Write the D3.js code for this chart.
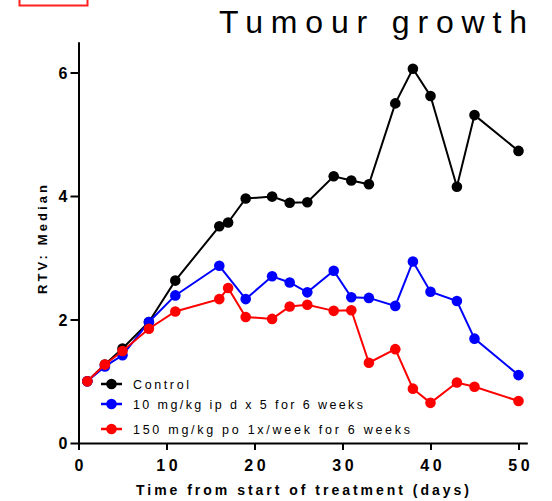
<!DOCTYPE html>
<html>
<head>
<meta charset="utf-8">
<script src="https://cdn.jsdelivr.net/npm/d3@7"></script>
<style>
  html, body { margin: 0; padding: 0; background: #fff; }
  svg { display: block; }
</style>
</head>
<body>
<svg id="chart" width="552" height="501"></svg>
<script>
// Relative tumour volume (median) by day from start of treatment
const controlDays = [1, 3, 5, 8, 11, 16, 17, 19, 22, 24, 26, 29, 31, 33, 36, 38, 40, 43, 45, 50];
const controlRTV  = [1.00, 1.27, 1.53, 1.96, 2.63, 3.51, 3.57, 3.96, 3.99, 3.89, 3.90, 4.32, 4.25, 4.19, 5.50, 6.06, 5.62, 4.15, 5.31, 4.73];

const lowDoseDays = [1, 3, 5, 8, 11, 16, 19, 22, 24, 26, 29, 31, 33, 36, 38, 40, 43, 45, 50];
const lowDoseRTV  = [1.00, 1.24, 1.42, 1.96, 2.39, 2.87, 2.33, 2.70, 2.60, 2.44, 2.79, 2.36, 2.35, 2.22, 2.94, 2.45, 2.30, 1.69, 1.10];

const highDoseDays = [1, 3, 5, 8, 11, 16, 17, 19, 22, 24, 26, 29, 31, 33, 36, 38, 40, 43, 45, 50];
const highDoseRTV  = [1.00, 1.27, 1.49, 1.85, 2.13, 2.33, 2.51, 2.04, 2.01, 2.21, 2.24, 2.14, 2.15, 1.30, 1.52, 0.88, 0.65, 0.98, 0.91, 0.68];

const seriesNames  = ["Control", "10 mg/kg ip d x 5 for 6 weeks", "150 mg/kg po 1x/week for 6 weeks"];
const seriesColors = ["#000000", "#0000ff", "#ff0000"];

const xTicks = [0, 10, 20, 30, 40, 50];
const yTicks = [0, 2, 4, 6];

const titleText = "Tumour growth";
const xTitle = "Time from start of treatment (days)";
const yTitle = "RTV: Median";

const series = [
  { name: seriesNames[0], color: seriesColors[0], pts: controlDays.map((d, i) => [d, controlRTV[i]]) },
  { name: seriesNames[1], color: seriesColors[1], pts: lowDoseDays.map((d, i) => [d, lowDoseRTV[i]]) },
  { name: seriesNames[2], color: seriesColors[2], pts: highDoseDays.map((d, i) => [d, highDoseRTV[i]]) }
];

const svg = d3.select("#chart");
const FONT = "'Liberation Sans', Arial, Helvetica, sans-serif";

const x = d3.scaleLinear().domain([0, 51]).range([78.5, 78.5 + 51 * 8.8]);
const y = d3.scaleLinear().domain([0, 6.5]).range([443, 443 - 6.5 * 61.75]);

// small red frame at the top-left edge
svg.append("rect")
  .attr("x", 19.5).attr("y", -4).attr("width", 68).attr("height", 9.5)
  .attr("fill", "none").attr("stroke", "#ff2020").attr("stroke-width", 2);

// title
svg.append("text")
  .attr("x", 219).attr("y", 33)
  .attr("font-family", FONT).attr("font-size", 32)
  .attr("textLength", 308).attr("lengthAdjust", "spacing")
  .attr("fill", "#000")
  .text(titleText);

// axes
const xAxis = d3.axisBottom(x).tickValues(xTicks).tickSize(7).tickSizeOuter(0).tickFormat(d3.format("d"));
const yAxis = d3.axisLeft(y).tickValues(yTicks).tickSize(8).tickSizeOuter(0).tickFormat(d3.format("d"));

const gx = svg.append("g").attr("transform", `translate(0,${y(0)})`).call(xAxis);
const gy = svg.append("g").attr("transform", `translate(${x(0)},0)`).call(yAxis);

[gx, gy].forEach(g => {
  g.select(".domain").attr("stroke", "#000").attr("stroke-width", 2);
  g.selectAll(".tick line").attr("stroke", "#000").attr("stroke-width", 2);
  g.selectAll(".tick text")
    .attr("font-family", FONT).attr("font-size", 16).attr("font-weight", "bold")
    .attr("fill", "#000");
});
gx.selectAll(".tick text").attr("y", 28).attr("dy", 0)
  .attr("letter-spacing", 3.5).attr("dx", 1.75);
gy.selectAll(".tick text").attr("x", -11).attr("dy", "0.36em");

// axis titles
svg.append("text")
  .attr("x", 136).attr("y", 495)
  .attr("font-family", FONT).attr("font-size", 14).attr("font-weight", "bold")
  .attr("textLength", 333).attr("lengthAdjust", "spacing")
  .text(xTitle);

svg.append("text")
  .attr("transform", "translate(47,294) rotate(-90)")
  .attr("font-family", FONT).attr("font-size", 13).attr("font-weight", "bold")
  .attr("textLength", 109).attr("lengthAdjust", "spacing")
  .text(yTitle);

// series lines and markers
const line = d3.line().x(d => x(d[0])).y(d => y(d[1]));
series.forEach(s => {
  const g = svg.append("g");
  g.append("path").datum(s.pts)
    .attr("d", line).attr("fill", "none")
    .attr("stroke", s.color).attr("stroke-width", 2);
  g.selectAll("circle").data(s.pts).join("circle")
    .attr("cx", d => x(d[0])).attr("cy", d => y(d[1])).attr("r", 5.3)
    .attr("fill", s.color);
});

// legend
const legendRows = [384, 404, 429];
const legendWidths = [56, 230, 277];
series.forEach((s, i) => {
  const g = svg.append("g").attr("transform", `translate(0,${legendRows[i]})`);
  g.append("line").attr("x1", 101).attr("x2", 122).attr("y1", 0).attr("y2", 0)
    .attr("stroke", s.color).attr("stroke-width", 2.5);
  g.append("circle").attr("cx", 111.5).attr("cy", 0).attr("r", 5.3).attr("fill", s.color);
  g.append("text").attr("x", 133).attr("y", 4.5)
    .attr("font-family", FONT).attr("font-size", 12.5)
    .attr("textLength", legendWidths[i]).attr("lengthAdjust", "spacing")
    .attr("fill", "#000")
    .text(s.name);
});
</script>
</body>
</html>
